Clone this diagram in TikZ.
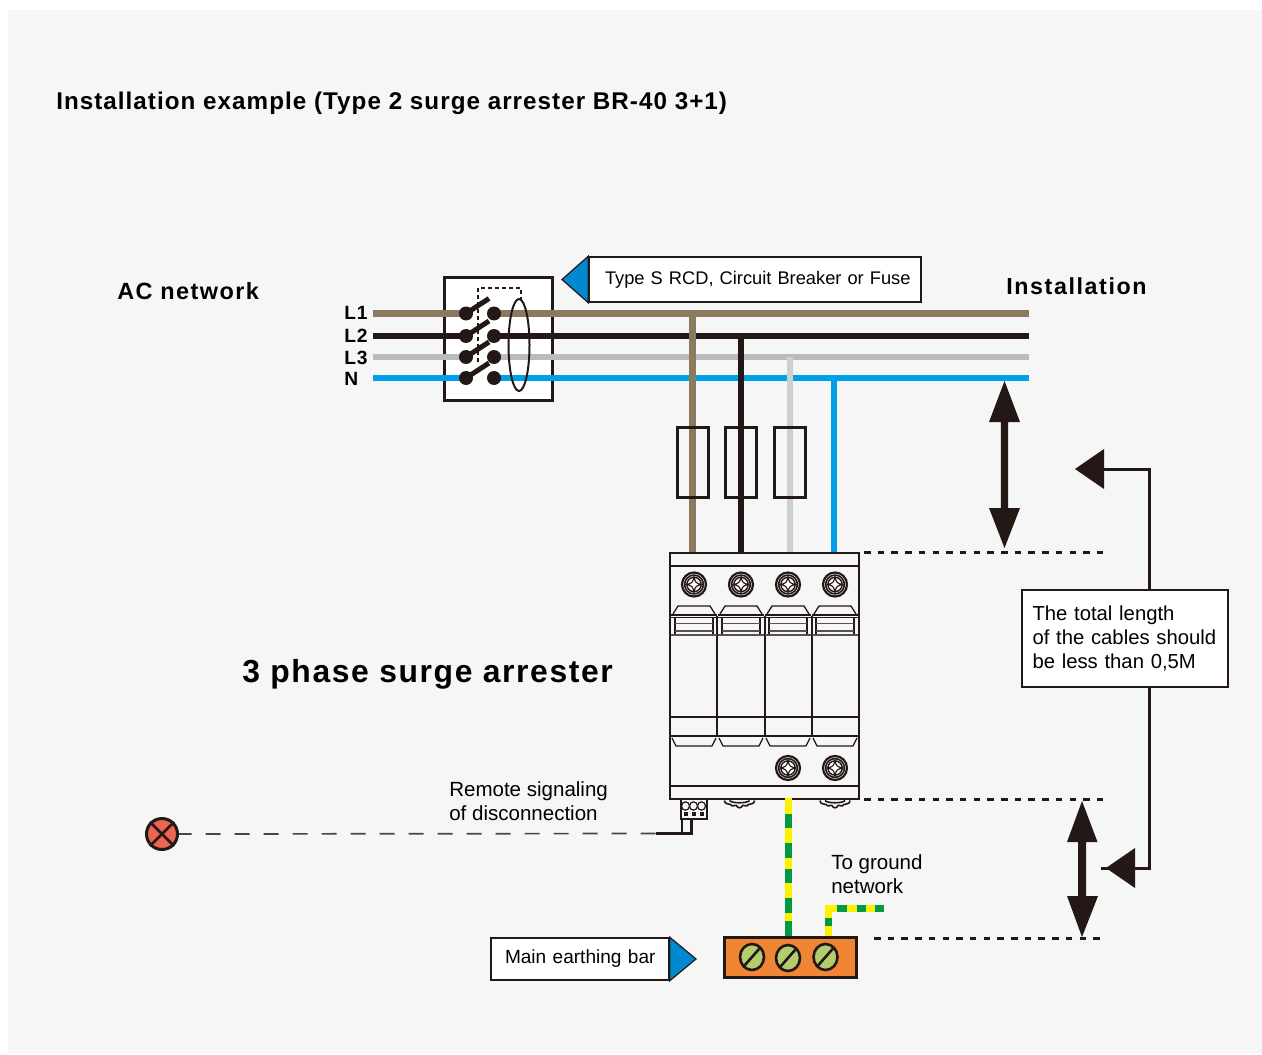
\documentclass[tikz,border=0pt]{standalone}
\usepackage{fontspec}
\setmainfont{Liberation Sans}
\usetikzlibrary{shapes.geometric}
\newdimen\px \px=0.75pt
\definecolor{ink}{HTML}{231815}
\definecolor{paper}{HTML}{F6F6F6}
\definecolor{wireone}{HTML}{8C7A5E}
\definecolor{wirethree}{HTML}{BBBBBB}
\definecolor{wirethreelight}{HTML}{CFCFCF}
\definecolor{wiren}{HTML}{00A0E9}
\definecolor{callout}{HTML}{0088D0}
\definecolor{gnd}{HTML}{009944}
\definecolor{yel}{HTML}{FFF000}
\definecolor{barfill}{HTML}{F18536}
\definecolor{screwfill}{HTML}{B4CD6C}
\definecolor{lampfill}{HTML}{EE6352}
\definecolor{signalline}{HTML}{4A4542}
\newcommand{\bodyfont}{\fontsize{15.4}{18}\selectfont}
\newcommand{\notefont}{\fontsize{15.2}{18}\selectfont}
\newcommand{\rcdfont}{\fontsize{13.7}{18}\selectfont}
\newcommand{\barfont}{\fontsize{14.3}{18}\selectfont}
\newcommand{\headfont}[2]{\fontsize{#1}{#1}\selectfont\bfseries\addfontfeature{LetterSpace=#2}}
\tikzset{
  x=0.75pt,y=-0.75pt,
  wire/.style={line width=6.5\px},
  drop/.style={line width=6.5\px},
  hairline/.style={draw=ink,line width=1.3\px},
  levelline/.style={draw=ink,line width=3\px,dash pattern=on 6.5\px off 7.2\px},
  leader/.style={draw=ink,line width=3\px},
  bigarrow/.style={fill=ink,draw=none},
  textbox/.style={draw=ink,line width=1.5\px,fill=white,inner sep=0pt,align=left},
  flag/.style={fill=callout,draw=ink,line width=1.2\px},
  label/.style={anchor=base west,inner sep=0pt,align=left},
  contact/.style={circle,fill=ink,inner sep=0pt,minimum size=14\px},
  arm/.style={draw=ink,line width=5\px},
  fusebox/.style={draw=ink,line width=3\px,minimum width=31\px,minimum height=70\px,inner sep=0pt},
  screwhead/.pic={
    \draw[draw=ink,line width=2.2\px] (0,0) circle (12);
    \draw[draw=ink,line width=1.6\px] (0,0) circle (9.4);
    \draw[draw=ink,line width=1.4\px] (0,0) circle (7.2);
    \draw[hairline,fill=white,line width=1.1\px] (0,-8) .. controls (1,-2) and (2,-1) .. (8,0)
       .. controls (2,1) and (1,2) .. (0,8) .. controls (-1,2) and (-2,1) .. (-8,0)
       .. controls (-2,-1) and (-1,-2) .. (0,-8) -- cycle;
  },
  barscrew/.pic={
    \draw[fill=screwfill,draw=ink,line width=2.6\px] (0,0) ellipse (12 and 13);
    \draw[draw=ink,line width=2.6\px] (-7.5,8.5) -- (7.5,-8.5);
  },
  upperlatch/.pic={
    \draw[hairline] (-21,8) -- (-16,0) -- (16,0) -- (21,8);
    \draw[hairline] (-23,9) -- (23,9);
    \draw[hairline] (-23,11.5) -- (23,11.5);
    \draw[draw=ink,line width=1.8\px] (-19,12) -- (-19,29);
    \draw[draw=ink,line width=1.8\px] (19,12) -- (19,29);
    \draw[draw=ink!75,line width=1.6\px] (-19,17.5) -- (19,17.5);
    \draw[draw=ink!75,line width=1.6\px] (-19,25) -- (19,25);
    \draw[draw=ink!75,line width=1.6\px] (-23,29) -- (23,29);
  },
  lowerlatch/.pic={
    \draw[hairline] (-22,0) -- (-18,8) -- (18,8) -- (22,0);
  },
  knob/.pic={
    \draw[hairline,line width=1.6\px] (-15,0) .. controls (-15,4) and (-11,3) .. (-9,4)
      .. controls (-7,7) and (-4,4) .. (-3,5) .. controls (-2,8) and (2,8) .. (3,5)
      .. controls (4,4) and (7,7) .. (9,4) .. controls (11,3) and (15,4) .. (15,0);
    \draw[hairline,line width=1.6\px] (-10,0) .. controls (-8,3) and (8,3) .. (10,0);
  },
}
\begin{document}
\begin{tikzpicture}
\useasboundingbox (0,0) rectangle (1262,1055);
\fill[white] (0,0) rectangle (1262,1055);
\fill[paper] (8,10) rectangle (1262,1053);

% --- titles
\node[label] (title) at (56,110) {\headfont{18.15}{4.3}Installation example (Type 2 surge arrester BR-40 3+1)};
\node[label] (acnet) at (117,300) {\headfont{17.6}{6}AC network};
\node[label] (inst) at (1006,295) {\headfont{17.4}{7}Installation};
\node[label] (phase) at (242,682) {\headfont{23.9}{5}3 phase surge arrester};
\node[label] (lone) at (344,320) {\headfont{14.4}{4}L1};
\node[label] (ltwo) at (344,342) {\headfont{14.4}{4}L2};
\node[label] (lthree) at (344,364) {\headfont{14.4}{4}L3};
\node[label] (lneutral) at (344,385) {\headfont{14.4}{4}N};

% --- breaker box
\node[draw=ink,line width=3\px,fill=white,minimum width=108\px,minimum height=122\px,inner sep=0pt] (breaker) at (498,339) {};

% --- coordinates
\coordinate (aone) at (373,313.5); \coordinate (bone) at (466,313.5); \coordinate (cone) at (494,313.5); \coordinate (done) at (1029,313.5);
\coordinate (atwo) at (373,336); \coordinate (btwo) at (466,336); \coordinate (ctwo) at (494,336); \coordinate (dtwo) at (1029,336);
\coordinate (athree) at (373,357); \coordinate (bthree) at (466,357); \coordinate (cthree) at (494,357); \coordinate (dthree) at (1029,357);
\coordinate (afour) at (373,378); \coordinate (bfour) at (466,378); \coordinate (cfour) at (494,378); \coordinate (dfour) at (1029,378);
\coordinate (tapone) at (692.5,313); \coordinate (taptwo) at (741,336); \coordinate (tapthree) at (790,357); \coordinate (tapfour) at (834,378);
\coordinate (inone) at (692.5,553); \coordinate (intwo) at (741,553); \coordinate (inthree) at (790,553); \coordinate (infour) at (834,553);

% --- horizontal wires
\draw[wire,wireone] (aone) -- (bone); \draw[wire,wireone] (cone) -- (done);
\draw[wire,wirethree] (athree) -- (bthree); \draw[wire,wirethree] (cthree) -- (dthree);
\draw[wire,wiren] (afour) -- (bfour); \draw[wire,wiren] (cfour) -- (dfour);
\draw[wire,ink] (atwo) -- (btwo); \draw[wire,ink] (ctwo) -- (dtwo);

% --- vertical drops
\draw[drop,wiren] (tapfour) -- (infour);
\draw[drop,wirethreelight] (tapthree) -- (inthree);
\draw[drop,ink] (taptwo) -- (intwo);
\draw[drop,wireone] (tapone) -- (inone);

% --- contacts and arms
\foreach \n/\yy in {bone/313.5,btwo/336,bthree/357,bfour/378}{
  \node[contact] (c\n) at (466,\yy) {};
  \draw[arm] (c\n.center) -- ++(23,-15);
}
\foreach \n/\yy in {cone/313.5,ctwo/336,cthree/357,cfour/378}{
  \node[contact] (c\n) at (494,\yy) {};
}
\draw[draw=ink,line width=2\px,dash pattern=on 4\px off 3\px] (478,362) -- (478,288) -- (521,288) -- (521,300);
\node[ellipse,draw=ink,line width=2\px,minimum width=21\px,minimum height=92\px,inner sep=0pt] (ring) at (519,345) {};

% --- fuses
\node[fusebox] (fuseone) at (692.5,462) {};
\node[fusebox] (fusetwo) at (741,462) {};
\node[fusebox] (fusethree) at (789.5,462) {};

% --- arrester
\node[draw=ink,line width=1.8\px,fill=paper,minimum width=189\px,minimum height=246\px,inner sep=0pt] (arrester) at (764.5,676) {};
\draw[hairline,line width=1.7\px] (670,566) -- (859,566);
\draw[hairline,line width=1.7\px] (670,786) -- (859,786);
\draw[hairline,line width=1.7\px] (670,717) -- (859,717);
\draw[draw=ink,line width=2.2\px] (670,736) -- (859,736);
\foreach \xx in {717,765,812}{ \draw[hairline,line width=1.8\px] (\xx,616) -- (\xx,737); }
\foreach \xx in {694,741,788,835}{
  \pic at (\xx,584.5) {screwhead};
  \pic at (\xx,606) {upperlatch};
  \pic at (\xx,738) {lowerlatch};
}
\foreach \xx in {788,835}{ \pic at (\xx,768) {screwhead}; }
\pic at (739.5,800.5) {knob};
\pic at (835,800.5) {knob};

% --- signalling terminal
\node[draw=ink,line width=1.8\px,fill=paper,minimum width=26\px,minimum height=20\px,inner sep=0pt] (terminal) at (694,809) {};
\foreach \xx in {685.5,693.5,701.5}{
  \draw[hairline,line width=1.2\px] (\xx,806) ellipse (4 and 4.2);
  \fill[ink] (\xx-2,812) rectangle (\xx+2,815.5);
}
\coordinate (legleft) at (682,819); \coordinate (legright) at (691.5,819);
\coordinate (footright) at (691.5,833.5); \coordinate (footleft) at (656,833.5); \coordinate (footmid) at (682,833.5);
\draw[draw=ink,line width=2.6\px] (legleft) -- (footmid);
\draw[draw=ink,line width=2.6\px] (legright) -- (footright) -- (footleft);

% --- lamp and dashed line
\node[circle,draw=ink,fill=lampfill,line width=3\px,minimum size=31\px,inner sep=0pt] (lamp) at (162,834) {};
\draw[ink,line width=2.6\px] (lamp.north west) -- (lamp.south east);
\draw[ink,line width=2.6\px] (lamp.north east) -- (lamp.south west);
\draw[draw=signalline,line width=1.7\px,dash pattern=on 15\px off 14\px,dash phase=2.5\px] (lamp.east) -- (footleft);

% --- earthing bar
\node[draw=ink,line width=3\px,fill=barfill,minimum width=132\px,minimum height=40\px,inner sep=0pt] (bar) at (790.5,957.5) {};
\pic at (752,957) {barscrew};
\pic at (788,958) {barscrew};
\pic at (825.5,957) {barscrew};

% --- earth wires
\coordinate (earthtop) at (788.5,798); \coordinate (earthbot) at (788.5,936);
\draw[line width=7.5\px,yel] (earthtop) -- (earthbot);
\foreach \ya/\yb in {814/828,843/858,869/883,898/913,921/936}{
  \draw[line width=7.5\px,gnd] (788.5,\ya) -- (788.5,\yb);
}
\coordinate (netbot) at (828,936); \coordinate (netcorner) at (828,908); \coordinate (netend) at (884,908);
\draw[line width=7\px,yel] (netbot) -- (netcorner) -- (netend);
\draw[line width=7\px,gnd] (828,926) -- (828,918);
\foreach \xa/\xb in {837/847,857/866,875/884}{
  \draw[line width=7\px,gnd] (\xa,908) -- (\xb,908);
}

% --- level lines
\coordinate (lvlaa) at (864,552); \coordinate (lvlab) at (1103.5,552);
\coordinate (lvlba) at (864,799.5); \coordinate (lvlbb) at (1103.5,799.5);
\coordinate (lvlca) at (874,938); \coordinate (lvlcb) at (1100,938);
\draw[levelline] (lvlaa) -- (lvlab);
\draw[levelline] (lvlba) -- (lvlbb);
\draw[levelline] (lvlca) -- (lvlcb);

% --- double arrows
\fill[bigarrow] (1004.5,381) -- (1020,422) -- (1008.2,422) -- (1008.2,508) -- (1020,508) -- (1004.5,548)
  -- (989,508) -- (1000.8,508) -- (1000.8,422) -- (989,422) -- cycle;
\fill[bigarrow] (1082,801) -- (1097.5,842) -- (1086,842) -- (1086,896) -- (1098,896) -- (1082,937)
  -- (1067,896) -- (1078,896) -- (1078,842) -- (1067,842) -- cycle;

% --- cable length note
\node[textbox,font=\notefont,minimum height=97\px,text width=185\px,inner xsep=10.5\px] (note) at (1125,638.5)
  {\mbox{The total length}\\\mbox{of the cables should}\\\mbox{be less than 0,5M}\\[-15.5pt]\mbox{}};
\fill[bigarrow] (1075,469) -- (1104,449) -- (1104,489) -- cycle;
\fill[bigarrow] (1106,868) -- (1135,848) -- (1135,888) -- cycle;
\coordinate (uptip) at (1104,469); \coordinate (upcorner) at (1149.5,469);
\coordinate (downtip) at (1101,868); \coordinate (downcorner) at (1149.5,868);
\coordinate (noteuplink) at (1149.5,590); \coordinate (notedownlink) at (1149.5,687);
\draw[leader] (noteuplink) -- (upcorner) -- (uptip);
\draw[leader] (notedownlink) -- (downcorner) -- (downtip);

% --- callouts
\node[textbox,font=\rcdfont,minimum height=45\px,text width=300\px,inner xsep=16\px] (rcd) at (755,279.5) {\mbox{Type S RCD, Circuit Breaker or Fuse}};
\draw[flag] (rcd.north west) -- (562,279.5) -- (rcd.south west) -- cycle;
\node[textbox,font=\barfont,minimum height=42\px,text width=150\px,inner xsep=14\px] (mebar) at (580,959) {\mbox{Main earthing bar}};
\draw[flag] (mebar.north east) -- (696,959) -- (mebar.south east) -- cycle;

% --- free labels
\node[label,font=\bodyfont] (remote) at (449,796) {Remote signaling};
\node[label,font=\bodyfont] (remotetwo) at (449,820) {of disconnection};
\node[label,font=\bodyfont] (toground) at (831,869) {To ground};
\node[label,font=\bodyfont] (network) at (831,893) {network};
\end{tikzpicture}
\end{document}
